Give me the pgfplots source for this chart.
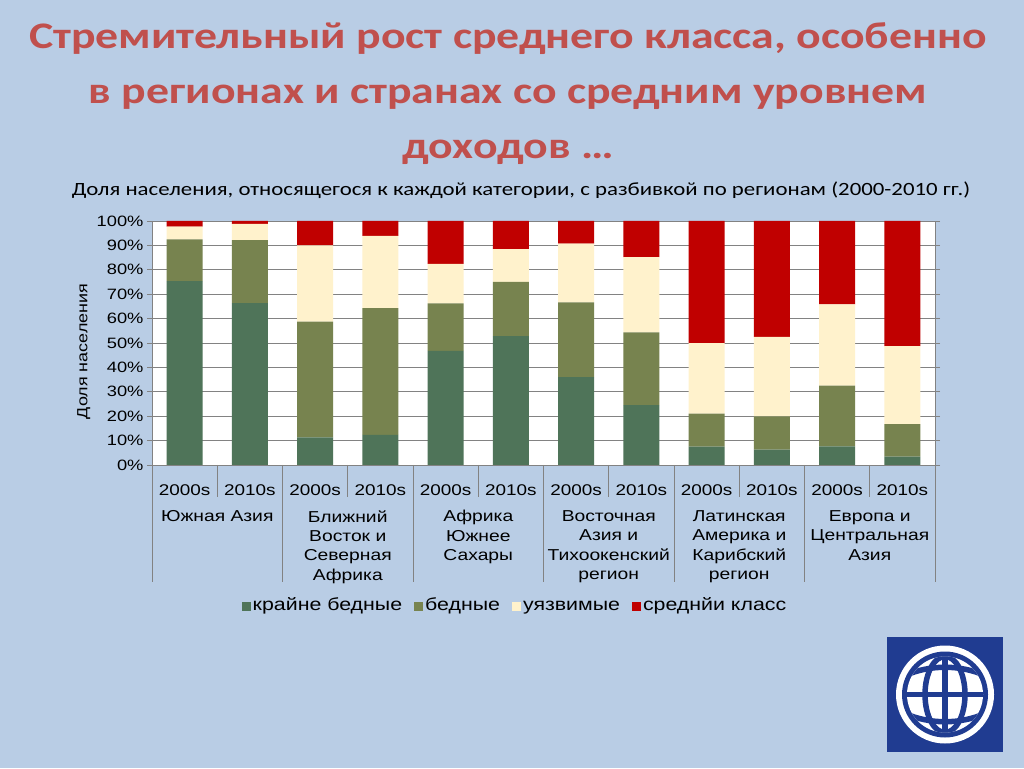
\documentclass[border=0pt]{standalone}
\usepackage{fontspec}
\setmainfont[FakeStretch=1.22]{Liberation Sans}
\newfontfamily\titlefont[FakeStretch=1.22]{Carlito}
\usepackage{pgfplots}
\pgfplotsset{compat=1.18}

\definecolor{bg}{RGB}{185,205,229}
\definecolor{titlered}{RGB}{192,80,77}
\definecolor{xpoor}{RGB}{79,116,89}
\definecolor{poor}{RGB}{119,131,79}
\definecolor{vuln}{RGB}{255,242,204}
\definecolor{midcl}{RGB}{192,0,0}
\definecolor{wbblue}{RGB}{32,60,145}
\definecolor{sep}{RGB}{130,130,130}

\begin{document}
\begin{tikzpicture}[x=1pt,y=1pt]
\fill[bg] (0,0) rectangle (1024,768);

% titles
\begin{scope}[every node/.style={anchor=base,text=titlered,font=\titlefont\bfseries\fontsize{37.5}{40}\selectfont}]
\node at (508,719) {Стремительный рост среднего класса, особенно};
\node at (508,664) {в регионах и странах со средним уровнем};
\node at (508,609) {доходов \dots};
\end{scope}
\node[anchor=base,font=\titlefont\fontsize{18.7}{22}\selectfont] at (521,572)
  {Доля населения, относящегося к каждой категории, с разбивкой по регионам (2000-2010 гг.)};

\begin{axis}[
  at={(152pt,303pt)}, anchor=south west,
  scale only axis, width=783pt, height=244pt,
  ybar stacked, bar width=36pt,
  xmin=0.5, xmax=12.5, ymin=0, ymax=100,
  axis background/.style={fill=white},
  axis line style={sep,line width=0.8pt},
  xtick={1,...,12},
  xticklabels={2000s,2010s,2000s,2010s,2000s,2010s,2000s,2010s,2000s,2010s,2000s,2010s},
  xtick style={draw=none},
  xticklabel style={anchor=center,yshift=-20pt,font=\fontsize{15.5}{18}\selectfont},
  ytick={0,10,...,100},
  yticklabels={0\%,10\%,20\%,30\%,40\%,50\%,60\%,70\%,80\%,90\%,100\%},
  yticklabel style={font=\fontsize{15}{18}\selectfont},
  ytick style={sep,line width=0.8pt},
  tick align=outside, major tick length=5pt,
  ymajorgrids, grid style={sep,line width=0.8pt},
  ylabel={Доля населения},
  ylabel style={at={(axis description cs:-0.087,0.465)},anchor=center,font=\fontsize{14.7}{18}\selectfont},
  legend style={at={(0.4636,-0.582)},anchor=center,draw=none,fill=none,
    legend columns=4,font=\fontsize{17.5}{20}\selectfont,
    nodes={text height=1.6ex,text depth=0.4ex},
    /tikz/every even column/.append style={column sep=10pt}},
  legend image code/.code={\draw[#1,draw=none] (0pt,-4pt) rectangle (9pt,5pt);},
  clip=false,
]
\addplot[fill=xpoor,draw=none] coordinates {
  (1,75.4) (2,66.3) (3,11.3) (4,12.3) (5,46.8) (6,52.8)
  (7,36.0) (8,24.5) (9,7.5) (10,6.3) (11,7.6) (12,3.4)};
\addplot[fill=poor,draw=none] coordinates {
  (1,17.1) (2,25.9) (3,47.5) (4,52.0) (5,19.4) (6,22.3)
  (7,30.6) (8,29.9) (9,13.6) (10,13.6) (11,24.9) (12,13.4)};
\addplot[fill=vuln,draw=none] coordinates {
  (1,5.2) (2,6.6) (3,31.2) (4,29.6) (5,16.2) (6,13.4)
  (7,24.1) (8,30.8) (9,28.8) (10,32.6) (11,33.3) (12,31.9)};
\addplot[fill=midcl,draw=none] coordinates {
  (1,2.3) (2,1.2) (3,10.0) (4,6.1) (5,17.6) (6,11.5)
  (7,9.3) (8,14.8) (9,50.1) (10,47.5) (11,34.2) (12,51.3)};
\legend{крайне бедные,бедные,уязвимые,среднйи класс}
\end{axis}

% category separators
\foreach \k in {0,...,6} \draw[sep,line width=0.8pt] (152+130.5*\k,303) -- (152+130.5*\k,186);
\foreach \k in {1,...,6} \draw[sep,line width=0.8pt] (152+130.5*\k-65.25,303) -- (152+130.5*\k-65.25,271);

% region labels
\begin{scope}[every node/.style={anchor=north,align=center,font=\fontsize{15.8}{19.3}\selectfont}]
\node at (217.25,261) {Южная Азия};
\node at (347.75,261) {Ближний\\Восток и\\Северная\\Африка};
\node at (478.25,261) {Африка\\Южнее\\Сахары};
\node at (608.75,261) {Восточная\\Азия и\\Тихоокенский\\регион};
\node at (739.25,261) {Латинская\\Америка и\\Карибский\\регион};
\node at (869.75,261) {Европа и\\Центральная\\Азия};
\end{scope}

% logo
\fill[wbblue] (887,16) rectangle (1003,131);
\begin{scope}[shift={(945,73.5)}]
\fill[white] (0,0) circle (49);
\fill[wbblue] (0,0) circle (43);
\fill[white] (0,0) circle (38);
\begin{scope}
\clip (0,0) circle (38);
\draw[wbblue,line width=5.5pt] (0,-40) -- (0,40);
\draw[wbblue,line width=5.5pt] (-40,0) -- (40,0);
\draw[wbblue,line width=5.5pt] (0,0) ellipse (20 and 38);
\draw[wbblue,line width=5.5pt] (-40,19) .. controls (-15,30) and (15,30) .. (40,19);
\draw[wbblue,line width=5.5pt] (-40,-19) .. controls (-15,-30) and (15,-30) .. (40,-19);
\end{scope}
\end{scope}
\end{tikzpicture}
\end{document}
